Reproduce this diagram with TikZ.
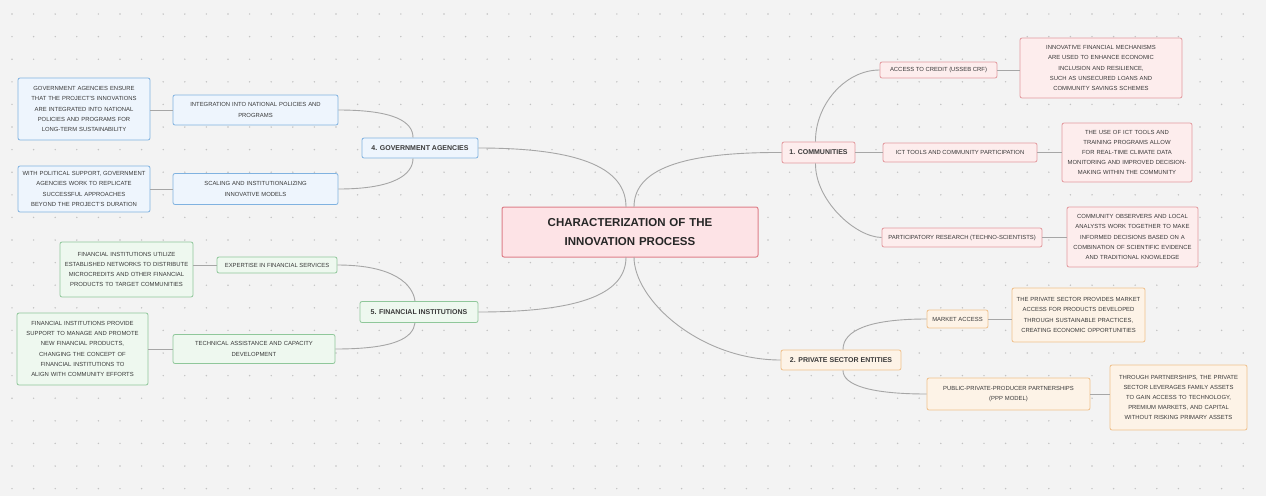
\documentclass[tikz,border=0pt]{standalone}
\usepackage{fontspec}
\setmainfont{Liberation Sans}
\AtBeginDocument{\lefthyphenmin=62 \righthyphenmin=62 }
\definecolor{bg}{HTML}{F3F3F3}
\definecolor{dotc}{HTML}{C2C2C2}
\definecolor{edgec}{HTML}{A6A6A6}
\definecolor{txt}{HTML}{3A3A3A}
\definecolor{pinkF}{HTML}{FDEDED}\definecolor{pinkD}{HTML}{E39A9F}
\definecolor{cenF}{HTML}{FDE3E6}\definecolor{cenD}{HTML}{DE7F89}
\definecolor{blueF}{HTML}{EEF5FD}\definecolor{blueD}{HTML}{80B2E0}
\definecolor{greenF}{HTML}{EEF8EF}\definecolor{greenD}{HTML}{8FC79A}
\definecolor{orF}{HTML}{FDF3E7}\definecolor{orD}{HTML}{EFC08C}
\tikzset{
  box/.style={draw, rounded corners=2pt, line width=0.8pt, inner sep=2pt, align=center, text=txt},
  detail/.style={box, font=\fontsize{5.9}{10.2}\selectfont},
  sub/.style={box, font=\fontsize{5.9}{10.5}\selectfont},
  mainb/.style={box, font=\fontsize{7}{9}\selectfont\bfseries},
  pinkb/.style={fill=pinkF, draw=pinkD},
  blueb/.style={fill=blueF, draw=blueD},
  greenb/.style={fill=greenF, draw=greenD},
  orb/.style={fill=orF, draw=orD},
  link/.style={draw=edgec, line width=0.9pt},
}
\begin{document}
\begin{tikzpicture}[x=1pt,y=-1pt]
\fill[bg] (0,0) rectangle (1266,496);
\useasboundingbox (0,0) rectangle (1266,496);
\foreach \i in {0,...,57}{\foreach \j in {0,...,21}{
  \fill[dotc] (12+\i*21.6, 14+\j*22.6) circle (0.8);}}
% center
\node[box, fill=cenF, draw=cenD, line width=1pt, minimum width=256pt, minimum height=50pt, text width=240pt, text=black!85, font=\fontsize{11.5}{19}\selectfont\bfseries] (center) at (630,232) {CHARACTERIZATION OF THE\\INNOVATION PROCESS};
\coordinate (ct1) at (626,207);\coordinate (ct2) at (634,207);
\coordinate (cb1) at (626,257);\coordinate (cb2) at (634,257);
% main branches
\node[mainb, blueb, minimum width=116pt, minimum height=20pt] (gov) at (420,148) {4. GOVERNMENT AGENCIES};
\node[mainb, greenb, minimum width=118pt, minimum height=21pt] (fin) at (419,312) {5. FINANCIAL INSTITUTIONS};
\node[mainb, pinkb, minimum width=73pt, minimum height=21pt] (comm) at (818.5,152.5) {1. COMMUNITIES};
\node[mainb, orb, minimum width=120pt, minimum height=20pt] (priv) at (841,360) {2. PRIVATE SECTOR ENTITIES};
% government
\node[sub, blueb, minimum width=165pt, minimum height=30pt, text width=158pt] (integ) at (255.5,110) {INTEGRATION INTO NATIONAL POLICIES AND\\PROGRAMS};
\node[sub, blueb, minimum width=165pt, minimum height=31pt, text width=158pt] (scal) at (255.5,189) {SCALING AND INSTITUTIONALIZING\\INNOVATIVE MODELS};
\node[detail, blueb, minimum width=132pt, minimum height=62pt, text width=124pt] (gd1) at (84,109) {GOVERNMENT AGENCIES ENSURE THAT THE PROJECT'S INNOVATIONS ARE INTEGRATED INTO NATIONAL POLICIES AND PROGRAMS FOR LONG-TERM SUSTAINABILITY};
\node[detail, blueb, minimum width=132pt, minimum height=46pt, text width=126pt] (gd2) at (84,189) {WITH POLITICAL SUPPORT, GOVERNMENT AGENCIES WORK TO REPLICATE SUCCESSFUL APPROACHES BEYOND THE PROJECT'S DURATION};
% financial
\node[sub, greenb, minimum width=120pt, minimum height=16pt] (expert) at (277,265) {EXPERTISE IN FINANCIAL SERVICES};
\node[sub, greenb, minimum width=162pt, minimum height=29pt, text width=155pt] (tech) at (254,349) {TECHNICAL ASSISTANCE AND CAPACITY\\DEVELOPMENT};
\node[detail, greenb, minimum width=133pt, minimum height=55pt, text width=129pt] (fd1) at (126.5,269.5) {FINANCIAL INSTITUTIONS UTILIZE ESTABLISHED NETWORKS TO DISTRIBUTE MICROCREDITS AND OTHER FINANCIAL PRODUCTS TO TARGET COMMUNITIES};
\node[detail, greenb, minimum width=131pt, minimum height=72pt, text width=124pt] (fd2) at (82.5,349) {FINANCIAL INSTITUTIONS PROVIDE SUPPORT TO MANAGE AND PROMOTE NEW FINANCIAL PRODUCTS, CHANGING THE CONCEPT OF FINANCIAL INSTITUTIONS TO ALIGN WITH COMMUNITY EFFORTS};
% communities
\node[sub, pinkb, minimum width=117pt, minimum height=16pt] (access) at (938.5,70) {ACCESS TO CREDIT (USSEB CRF)};
\node[sub, pinkb, minimum width=154pt, minimum height=19pt] (ict) at (960,152.5) {ICT TOOLS AND COMMUNITY PARTICIPATION};
\node[sub, pinkb, minimum width=160pt, minimum height=19pt] (partic) at (962,237.5) {PARTICIPATORY RESEARCH (TECHNO-SCIENTISTS)};
\node[detail, pinkb, minimum width=162pt, minimum height=60pt, text width=128pt] (cd1) at (1101,68) {INNOVATIVE FINANCIAL MECHANISMS ARE USED TO ENHANCE ECONOMIC INCLUSION AND RESILIENCE, SUCH AS UNSECURED LOANS AND COMMUNITY SAVINGS SCHEMES};
\node[detail, pinkb, minimum width=130pt, minimum height=59pt, text width=124pt] (cd2) at (1127,152.5) {THE USE OF ICT TOOLS AND TRAINING PROGRAMS ALLOW FOR REAL-TIME CLIMATE DATA MONITORING AND IMPROVED DECISION-MAKING WITHIN THE COMMUNITY};
\node[detail, pinkb, minimum width=131pt, minimum height=60pt, text width=125pt] (cd3) at (1132.5,237) {COMMUNITY OBSERVERS AND LOCAL ANALYSTS WORK TOGETHER TO MAKE INFORMED DECISIONS BASED ON A COMBINATION OF SCIENTIFIC EVIDENCE AND TRADITIONAL KNOWLEDGE};
% private
\node[sub, orb, minimum width=61pt, minimum height=18pt] (market) at (957.5,319) {MARKET ACCESS};
\node[sub, orb, minimum width=163pt, minimum height=32pt, text width=156pt] (ppp) at (1008.5,394) {PUBLIC-PRIVATE-PRODUCER PARTNERSHIPS\\(PPP MODEL)};
\node[detail, orb, minimum width=133pt, minimum height=54pt, text width=129pt] (pd1) at (1078.5,315) {THE PRIVATE SECTOR PROVIDES MARKET ACCESS FOR PRODUCTS DEVELOPED THROUGH SUSTAINABLE PRACTICES, CREATING ECONOMIC OPPORTUNITIES};
\node[detail, orb, minimum width=137pt, minimum height=65pt, text width=128pt] (pd2) at (1178.5,397.5) {THROUGH PARTNERSHIPS, THE PRIVATE SECTOR LEVERAGES FAMILY ASSETS TO GAIN ACCESS TO TECHNOLOGY, PREMIUM MARKETS, AND CAPITAL WITHOUT RISKING PRIMARY ASSETS};
% connectors center
\draw[link] (gov.east) .. controls (585,148) and (626,170) .. (ct1);
\draw[link] (comm.west) .. controls (680,152) and (634,170) .. (ct2);
\draw[link] (fin.east) .. controls (585,312) and (626,292) .. (cb1);
\draw[link] (priv.west) .. controls (700,360) and (634,300) .. (cb2);
% gov
\draw[link] (integ.east) .. controls (395,110) and (413,122) .. ([xshift=-7pt]gov.north);
\draw[link] (scal.east) .. controls (395,189) and (413,174) .. ([xshift=-7pt]gov.south);
\draw[link] (integ.west) -- (integ.west -| gd1.east);
\draw[link] (scal.west) -- (scal.west -| gd2.east);
% fin
\draw[link] (expert.east) .. controls (395,265) and (413,285) .. ([xshift=-4pt]fin.north);
\draw[link] (tech.east) .. controls (395,349) and (413,338) .. ([xshift=-4pt]fin.south);
\draw[link] (expert.west) -- (expert.west -| fd1.east);
\draw[link] (tech.west) -- (tech.west -| fd2.east);
% comm
\draw[link] (access.west) .. controls (845,70) and (815,105) .. ([xshift=-3pt]comm.north);
\draw[link] (ict.west) -- (comm.east);
\draw[link] (partic.west) .. controls (855,237) and (815,200) .. ([xshift=-3pt]comm.south);
\draw[link] (access.east) -- (access.east -| cd1.west);
\draw[link] (ict.east) -- (ict.east -| cd2.west);
\draw[link] (partic.east) -- (partic.east -| cd3.west);
% priv
\draw[link] (market.west) .. controls (870,319) and (843,330) .. ([xshift=2pt]priv.north);
\draw[link] (ppp.west) .. controls (870,394) and (843,385) .. ([xshift=2pt]priv.south);
\draw[link] (market.east) -- (market.east -| pd1.west);
\draw[link] (ppp.east) -- (ppp.east -| pd2.west);
\end{tikzpicture}
\end{document}
